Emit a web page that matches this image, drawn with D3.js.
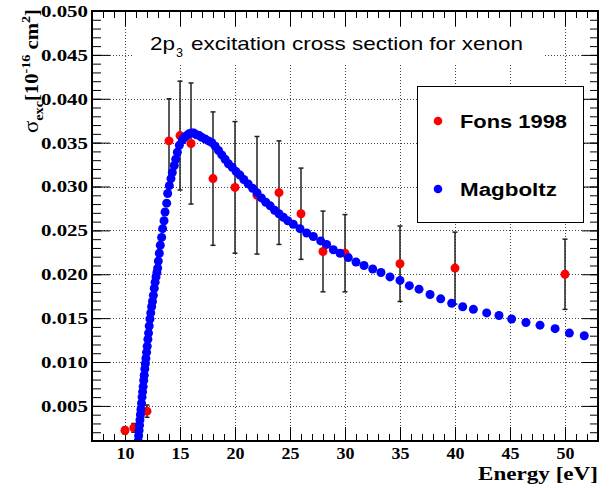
<!DOCTYPE html>
<html>
<head>
<meta charset="utf-8">
<script src="https://cdn.jsdelivr.net/npm/d3@7"></script>
<style>
	body { margin: 0; background: #fff; }
	svg { display: block; }
</style>
</head>
<body>
<div id="chart"></div>
<script>
// NOTE data
var fonsEnergy = [10, 10.8, 12, 14, 15, 16, 18, 20, 22, 24, 26, 28, 30, 35, 40, 50];
var fonsSigma = [0.0022, 0.0025, 0.0044, 0.0352, 0.0358, 0.0349, 0.0309, 0.0299, 0.029, 0.0293, 0.0269, 0.0226, 0.0224, 0.0212, 0.0207, 0.02];
var fonsError = [0.0004, 0.0005, 0.0007, 0.0048, 0.0062, 0.0069, 0.0076, 0.0075, 0.0067, 0.0059, 0.0052, 0.0046, 0.0044, 0.0043, 0.0041, 0.004];

var magEnergy = [
	11.2, 11.24, 11.28, 11.32, 11.36, 11.4, 11.45, 11.5, 11.55, 11.6, 11.65, 11.7, 11.75, 11.8, 11.85, 11.9,
	11.96, 12.02, 12.08, 12.14, 12.2, 12.27, 12.34, 12.42, 12.5, 12.58, 12.66, 12.74, 12.82, 12.9,
	12.97, 13.03, 13.12, 13.21, 13.33, 13.42, 13.55, 13.64, 13.79, 13.88, 14.03, 14.18, 14.3, 14.48,
	14.61, 14.76, 14.94, 15.21, 15.4, 15.61, 15.8, 16.05, 16.25, 16.5, 16.75, 16.97,
	17.3, 17.6, 17.9, 18.2, 18.5, 18.8, 19.1, 19.4, 19.75, 20.1, 20.45, 20.8, 21.2, 21.6, 22.0, 22.4,
	22.8, 23.2, 23.6, 24.0, 24.4, 24.8, 25.3, 25.91, 26.52, 27.12, 27.79, 28.33, 28.94, 29.55, 30.3,
	31.0, 31.73, 32.52, 33.27, 34.09, 35.0, 35.85, 36.73, 37.73, 38.7, 39.7, 40.7, 41.67, 42.88, 44.0,
	45.15, 46.45, 47.73, 49.1, 50.4, 51.75
];
var magSigma = [
	0.001, 0.0016, 0.0022, 0.0028, 0.0034, 0.004, 0.0046, 0.0053, 0.006, 0.0066, 0.0072, 0.0079, 0.0085, 0.0092, 0.0098, 0.0104,
	0.0111, 0.0118, 0.0126, 0.0133, 0.0141, 0.0149, 0.0156, 0.0163, 0.0169, 0.0176, 0.0184, 0.0191, 0.0197, 0.0202,
	0.0207, 0.0215, 0.0224, 0.0233, 0.0242, 0.0252, 0.0261, 0.0271, 0.0281, 0.0292, 0.0301, 0.0309, 0.0316, 0.0324,
	0.0331, 0.0339, 0.0347, 0.0353, 0.0356, 0.0358, 0.036, 0.0361, 0.0361, 0.0359, 0.0358, 0.0356,
	0.0354, 0.0352, 0.035, 0.0346, 0.0341, 0.0336, 0.0331, 0.0326, 0.0322, 0.0317, 0.0313, 0.0308, 0.0303, 0.0298, 0.0293, 0.0287,
	0.0282, 0.0278, 0.0273, 0.0269, 0.0265, 0.0261, 0.0257, 0.0252, 0.0247, 0.0243, 0.0238, 0.0234, 0.0228, 0.0224, 0.0219,
	0.0214, 0.021, 0.0206, 0.0202, 0.0197, 0.0193, 0.0187, 0.0183, 0.0177, 0.0172, 0.0167, 0.0163, 0.016, 0.0156, 0.0153,
	0.0149, 0.0145, 0.0142, 0.0138, 0.0133, 0.013
];

var xMajor = [10, 15, 20, 25, 30, 35, 40, 45, 50];
var yMajor = [0.005, 0.01, 0.015, 0.02, 0.025, 0.03, 0.035, 0.04, 0.045, 0.05];
var legendLabels = ['Fons 1998', 'Magboltz'];

var fons = fonsEnergy.map(function (e, i) {
	return { e: e, s: fonsSigma[i], err: fonsError[i] };
});
var mag = magEnergy.map(function (e, i) {
	return { e: e, s: magSigma[i] };
});

var W = 611, H = 488;
var frame = { left: 92, right: 598, top: 11, bottom: 441 };

var svg = d3
	.select('#chart')
	.append('svg')
	.attr('width', W)
	.attr('height', H);

var x = d3.scaleLinear().domain([7, 53]).range([frame.left, frame.right]);
var y = d3.scaleLinear().domain([0.001, 0.05]).range([frame.bottom, frame.top]);

var serif = '"Liberation Serif", "Times New Roman", serif';
var sans = '"Liberation Sans", Arial, sans-serif';

// grid
var grid = svg.append('g').attr('stroke', '#444').attr('stroke-dasharray', '1,2').attr('stroke-width', 1);
grid
	.selectAll('line.gx')
	.data(xMajor)
	.enter()
	.append('line')
	.attr('x1', function (d) { return Math.round(x(d)) + 0.5; })
	.attr('x2', function (d) { return Math.round(x(d)) + 0.5; })
	.attr('y1', frame.top)
	.attr('y2', frame.bottom);
grid
	.selectAll('line.gy')
	.data(yMajor.filter(function (d) { return d < 0.05; }))
	.enter()
	.append('line')
	.attr('x1', frame.left)
	.attr('x2', frame.right)
	.attr('y1', function (d) { return Math.round(y(d)) + 0.5; })
	.attr('y2', function (d) { return Math.round(y(d)) + 0.5; });

// title box hides the grid behind it
svg.append('rect').attr('x', 132).attr('y', 27).attr('width', 413).attr('height', 37).attr('fill', '#fff');

// axes, ticks pointing inwards
function clean(g) {
	g.select('.domain').remove();
	g.selectAll('line').attr('stroke', '#000');
}
var xMinor = d3.range(7, 54, 1);
var yMinor = d3.range(1, 51).map(function (d) { return d / 1000; });

svg.append('g').attr('transform', 'translate(0,' + frame.bottom + ')')
	.call(d3.axisBottom(x).tickValues(xMinor).tickSize(-7).tickFormat('')).call(clean);
svg.append('g').attr('transform', 'translate(0,' + frame.top + ')')
	.call(d3.axisTop(x).tickValues(xMinor).tickSize(-7).tickFormat('')).call(clean);
svg.append('g').attr('transform', 'translate(' + frame.left + ',0)')
	.call(d3.axisLeft(y).tickValues(yMinor).tickSize(-9).tickFormat('')).call(clean);
svg.append('g').attr('transform', 'translate(' + frame.right + ',0)')
	.call(d3.axisRight(y).tickValues(yMinor).tickSize(-8).tickFormat('')).call(clean);

var xAxis = svg.append('g').attr('transform', 'translate(0,' + frame.bottom + ')')
	.call(d3.axisBottom(x).tickValues(xMajor).tickSize(-14).tickPadding(7)).call(clean);
svg.append('g').attr('transform', 'translate(0,' + frame.top + ')')
	.call(d3.axisTop(x).tickValues(xMajor).tickSize(-15).tickFormat('')).call(clean);
var yAxis = svg.append('g').attr('transform', 'translate(' + frame.left + ',0)')
	.call(d3.axisLeft(y).tickValues(yMajor).tickSize(-18).tickPadding(4).tickFormat(d3.format('.3f'))).call(clean);
svg.append('g').attr('transform', 'translate(' + frame.right + ',0)')
	.call(d3.axisRight(y).tickValues(yMajor).tickSize(-16).tickFormat('')).call(clean);

xAxis.selectAll('text')
	.attr('fill', '#000')
	.style('font-family', serif)
	.style('font-weight', 'bold')
	.style('font-size', '16px')
	.attr('textLength', 18)
	.attr('lengthAdjust', 'spacingAndGlyphs');
yAxis.selectAll('text')
	.attr('fill', '#000')
	.style('font-family', serif)
	.style('font-weight', 'bold')
	.style('font-size', '17px')
	.attr('textLength', 47)
	.attr('lengthAdjust', 'spacingAndGlyphs');

// title
var title = svg.append('g').attr('fill', '#000').style('font-family', sans);
title.append('text').attr('x', 150).attr('y', 50).style('font-size', '19px')
	.attr('textLength', 25).attr('lengthAdjust', 'spacingAndGlyphs').text('2p');
title.append('text').attr('x', 176).attr('y', 57).style('font-size', '13px')
	.attr('textLength', 7).attr('lengthAdjust', 'spacingAndGlyphs').text('3');
title.append('text').attr('x', 191).attr('y', 50).style('font-size', '19px')
	.attr('textLength', 332).attr('lengthAdjust', 'spacingAndGlyphs').text('excitation cross section for xenon');

// data, clipped to the frame
svg.append('clipPath').attr('id', 'clip').append('rect')
	.attr('x', frame.left).attr('y', frame.top)
	.attr('width', frame.right - frame.left).attr('height', frame.bottom - frame.top);
var plot = svg.append('g').attr('clip-path', 'url(#clip)');

var bars = plot.append('g').attr('stroke', '#222').attr('stroke-width', 1.5);
bars.selectAll('line.bar').data(fons).enter().append('line')
	.attr('x1', function (d) { return x(d.e); })
	.attr('x2', function (d) { return x(d.e); })
	.attr('y1', function (d) { return y(d.s + d.err); })
	.attr('y2', function (d) { return y(d.s - d.err); });
bars.selectAll('line.capTop').data(fons).enter().append('line')
	.attr('x1', function (d) { return x(d.e) - 2.5; })
	.attr('x2', function (d) { return x(d.e) + 2.5; })
	.attr('y1', function (d) { return y(d.s + d.err); })
	.attr('y2', function (d) { return y(d.s + d.err); });
bars.selectAll('line.capBot').data(fons).enter().append('line')
	.attr('x1', function (d) { return x(d.e) - 2.5; })
	.attr('x2', function (d) { return x(d.e) + 2.5; })
	.attr('y1', function (d) { return y(d.s - d.err); })
	.attr('y2', function (d) { return y(d.s - d.err); });

plot.selectAll('circle.fons').data(fons).enter().append('circle')
	.attr('cx', function (d) { return x(d.e); })
	.attr('cy', function (d) { return y(d.s); })
	.attr('r', 4.5)
	.attr('fill', '#ff0000');

plot.selectAll('circle.mag').data(mag).enter().append('circle')
	.attr('cx', function (d) { return x(d.e); })
	.attr('cy', function (d) { return y(d.s); })
	.attr('r', 4.5)
	.attr('fill', '#0000ff');

// frame
svg.append('rect')
	.attr('x', frame.left).attr('y', frame.top)
	.attr('width', frame.right - frame.left).attr('height', frame.bottom - frame.top)
	.attr('fill', 'none').attr('stroke', '#000').attr('stroke-width', 2);

// legend
var legend = svg.append('g');
legend.append('rect').attr('x', 417.5).attr('y', 86.5).attr('width', 166).attr('height', 136)
	.attr('fill', '#fff').attr('stroke', '#000').attr('stroke-width', 1);
var legendColors = ['#ff0000', '#0000ff'];
var legendY = [121, 189];
var legendWidth = [107, 97];
legendLabels.forEach(function (label, i) {
	legend.append('circle').attr('cx', 438).attr('cy', legendY[i]).attr('r', 4.3).attr('fill', legendColors[i]);
	legend.append('text')
		.attr('x', 460).attr('y', legendY[i] + 7)
		.style('font-family', sans).style('font-weight', 'bold').style('font-size', '18px')
		.attr('textLength', legendWidth[i]).attr('lengthAdjust', 'spacingAndGlyphs')
		.text(label);
});

// axis titles
svg.append('text')
	.attr('x', frame.right).attr('y', 480)
	.attr('text-anchor', 'end')
	.style('font-family', serif).style('font-weight', 'bold').style('font-size', '18px')
	.attr('textLength', 120).attr('lengthAdjust', 'spacingAndGlyphs')
	.text('Energy [eV]');

var yLabel = svg.append('text')
	.attr('transform', 'translate(38,133) rotate(-90)')
	.attr('textLength', 124).attr('lengthAdjust', 'spacingAndGlyphs')
	.style('font-family', serif).style('font-weight', 'bold').style('font-size', '19px');
yLabel.append('tspan').style('font-weight', 'normal').style('font-size', '21px').text('σ');
yLabel.append('tspan').attr('dy', 5).style('font-size', '13px').text('exc');
yLabel.append('tspan').attr('dy', -5).text('[10');
yLabel.append('tspan').attr('dy', -8).style('font-size', '13px').text('-16');
yLabel.append('tspan').attr('dy', 8).text(' cm');
yLabel.append('tspan').attr('dy', -8).style('font-size', '13px').text('2');
yLabel.append('tspan').attr('dy', 8).text(']');
</script>
</body>
</html>
